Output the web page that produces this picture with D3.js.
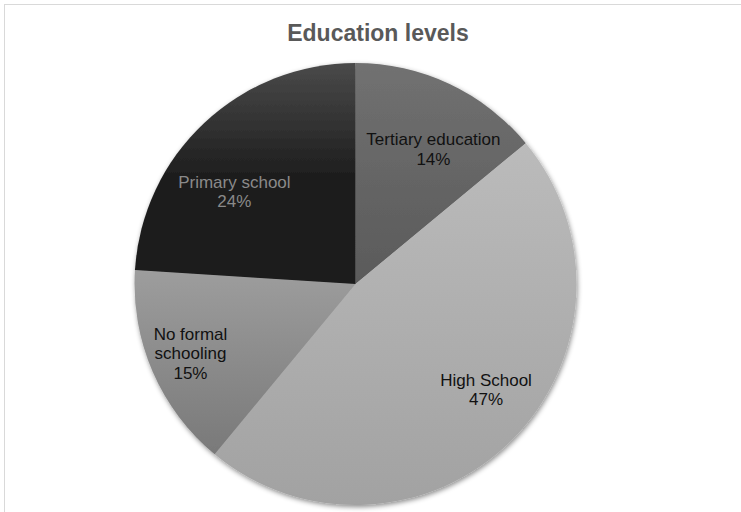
<!DOCTYPE html>
<html>
<head>
<meta charset="utf-8">
<script src="https://cdn.jsdelivr.net/npm/d3@7"></script>
<style>
  body { margin: 0; background: #fff; }
  svg { display: block; font-family: "Liberation Sans", Arial, sans-serif; }
</style>
</head>
<body>
<svg id="chart" width="741" height="512"></svg>
<script>
// chart data
const categories = ['Tertiary education', 'High School', 'No formal schooling', 'Primary school'];
const values = [14, 47, 15, 24];
const labelLines = [['Tertiary education', '14%'], ['High School', '47%'], ['No formal', 'schooling', '15%'], ['Primary school', '24%']];

// look
const gradStops = [
  [[0, '#717171'], [1, '#5a5a5a']],
  [[0, '#bbbbbb'], [1, '#a2a2a2']],
  [[0, '#9d9d9d'], [1, '#797979']],
  [[0, '#4a4a4a'], [0.5, '#1f1f1f'], [1, '#1e1e1e']]
];
const textColors = ['#111', '#111', '#111', '#8a8a8a'];
// label placement: fraction of radius, angle in degrees clockwise from top
const labelPlace = [[0.705, 30], [0.76, 129], [0.81, 247.2], [0.69, 307.4]];

const cx = 355.5, cy = 284, radius = 221;

const svg = d3.select('#chart');
const defs = svg.append('defs');

// frame
svg.append('rect')
  .attr('x', 4.5).attr('y', 4.5)
  .attr('width', 800).attr('height', 600)
  .attr('fill', '#fff')
  .attr('stroke', '#d9d9d9');

svg.append('text')
  .attr('x', 378).attr('y', 41)
  .attr('text-anchor', 'middle')
  .attr('font-size', 23)
  .attr('font-weight', 'bold')
  .attr('fill', '#595959')
  .text('Education levels');

const shadow = defs.append('filter').attr('id', 'shadow')
  .attr('x', '-10%').attr('y', '-10%').attr('width', '120%').attr('height', '120%');
shadow.append('feDropShadow')
  .attr('dx', 1).attr('dy', 2).attr('stdDeviation', 2.5)
  .attr('flood-color', '#000').attr('flood-opacity', 0.45);

categories.forEach((c, i) => {
  const g = defs.append('linearGradient').attr('id', 'grad' + i)
    .attr('x1', 0).attr('y1', 0).attr('x2', 0).attr('y2', 1);
  gradStops[i].forEach(s => {
    g.append('stop').attr('offset', s[0]).attr('stop-color', s[1]);
  });
});

const pie = d3.pie().sort(null).value(d => d);
const arcs = pie(values);
const arc = d3.arc().innerRadius(0).outerRadius(radius);

const g = svg.append('g').attr('transform', `translate(${cx},${cy})`);

g.append('g').attr('filter', 'url(#shadow)')
  .selectAll('path')
  .data(arcs)
  .join('path')
  .attr('d', arc)
  .attr('fill', (d, i) => `url(#grad${i})`);

const lineH = 19.5;
const labels = g.selectAll('text.label')
  .data(arcs)
  .join('text')
  .attr('class', 'label')
  .attr('text-anchor', 'middle')
  .attr('font-size', 17)
  .attr('fill', (d, i) => textColors[i])
  .attr('transform', (d, i) => {
    const p = d3.pointRadial(labelPlace[i][1] * Math.PI / 180, labelPlace[i][0] * radius);
    return `translate(${p})`;
  });

labels.each(function(d, i) {
  const lines = labelLines[i];
  const t = d3.select(this);
  lines.forEach((l, j) => {
    t.append('tspan')
      .attr('x', 0)
      .attr('y', (j - (lines.length - 1) / 2) * lineH + 6)
      .text(l);
  });
});
</script>
</body>
</html>
